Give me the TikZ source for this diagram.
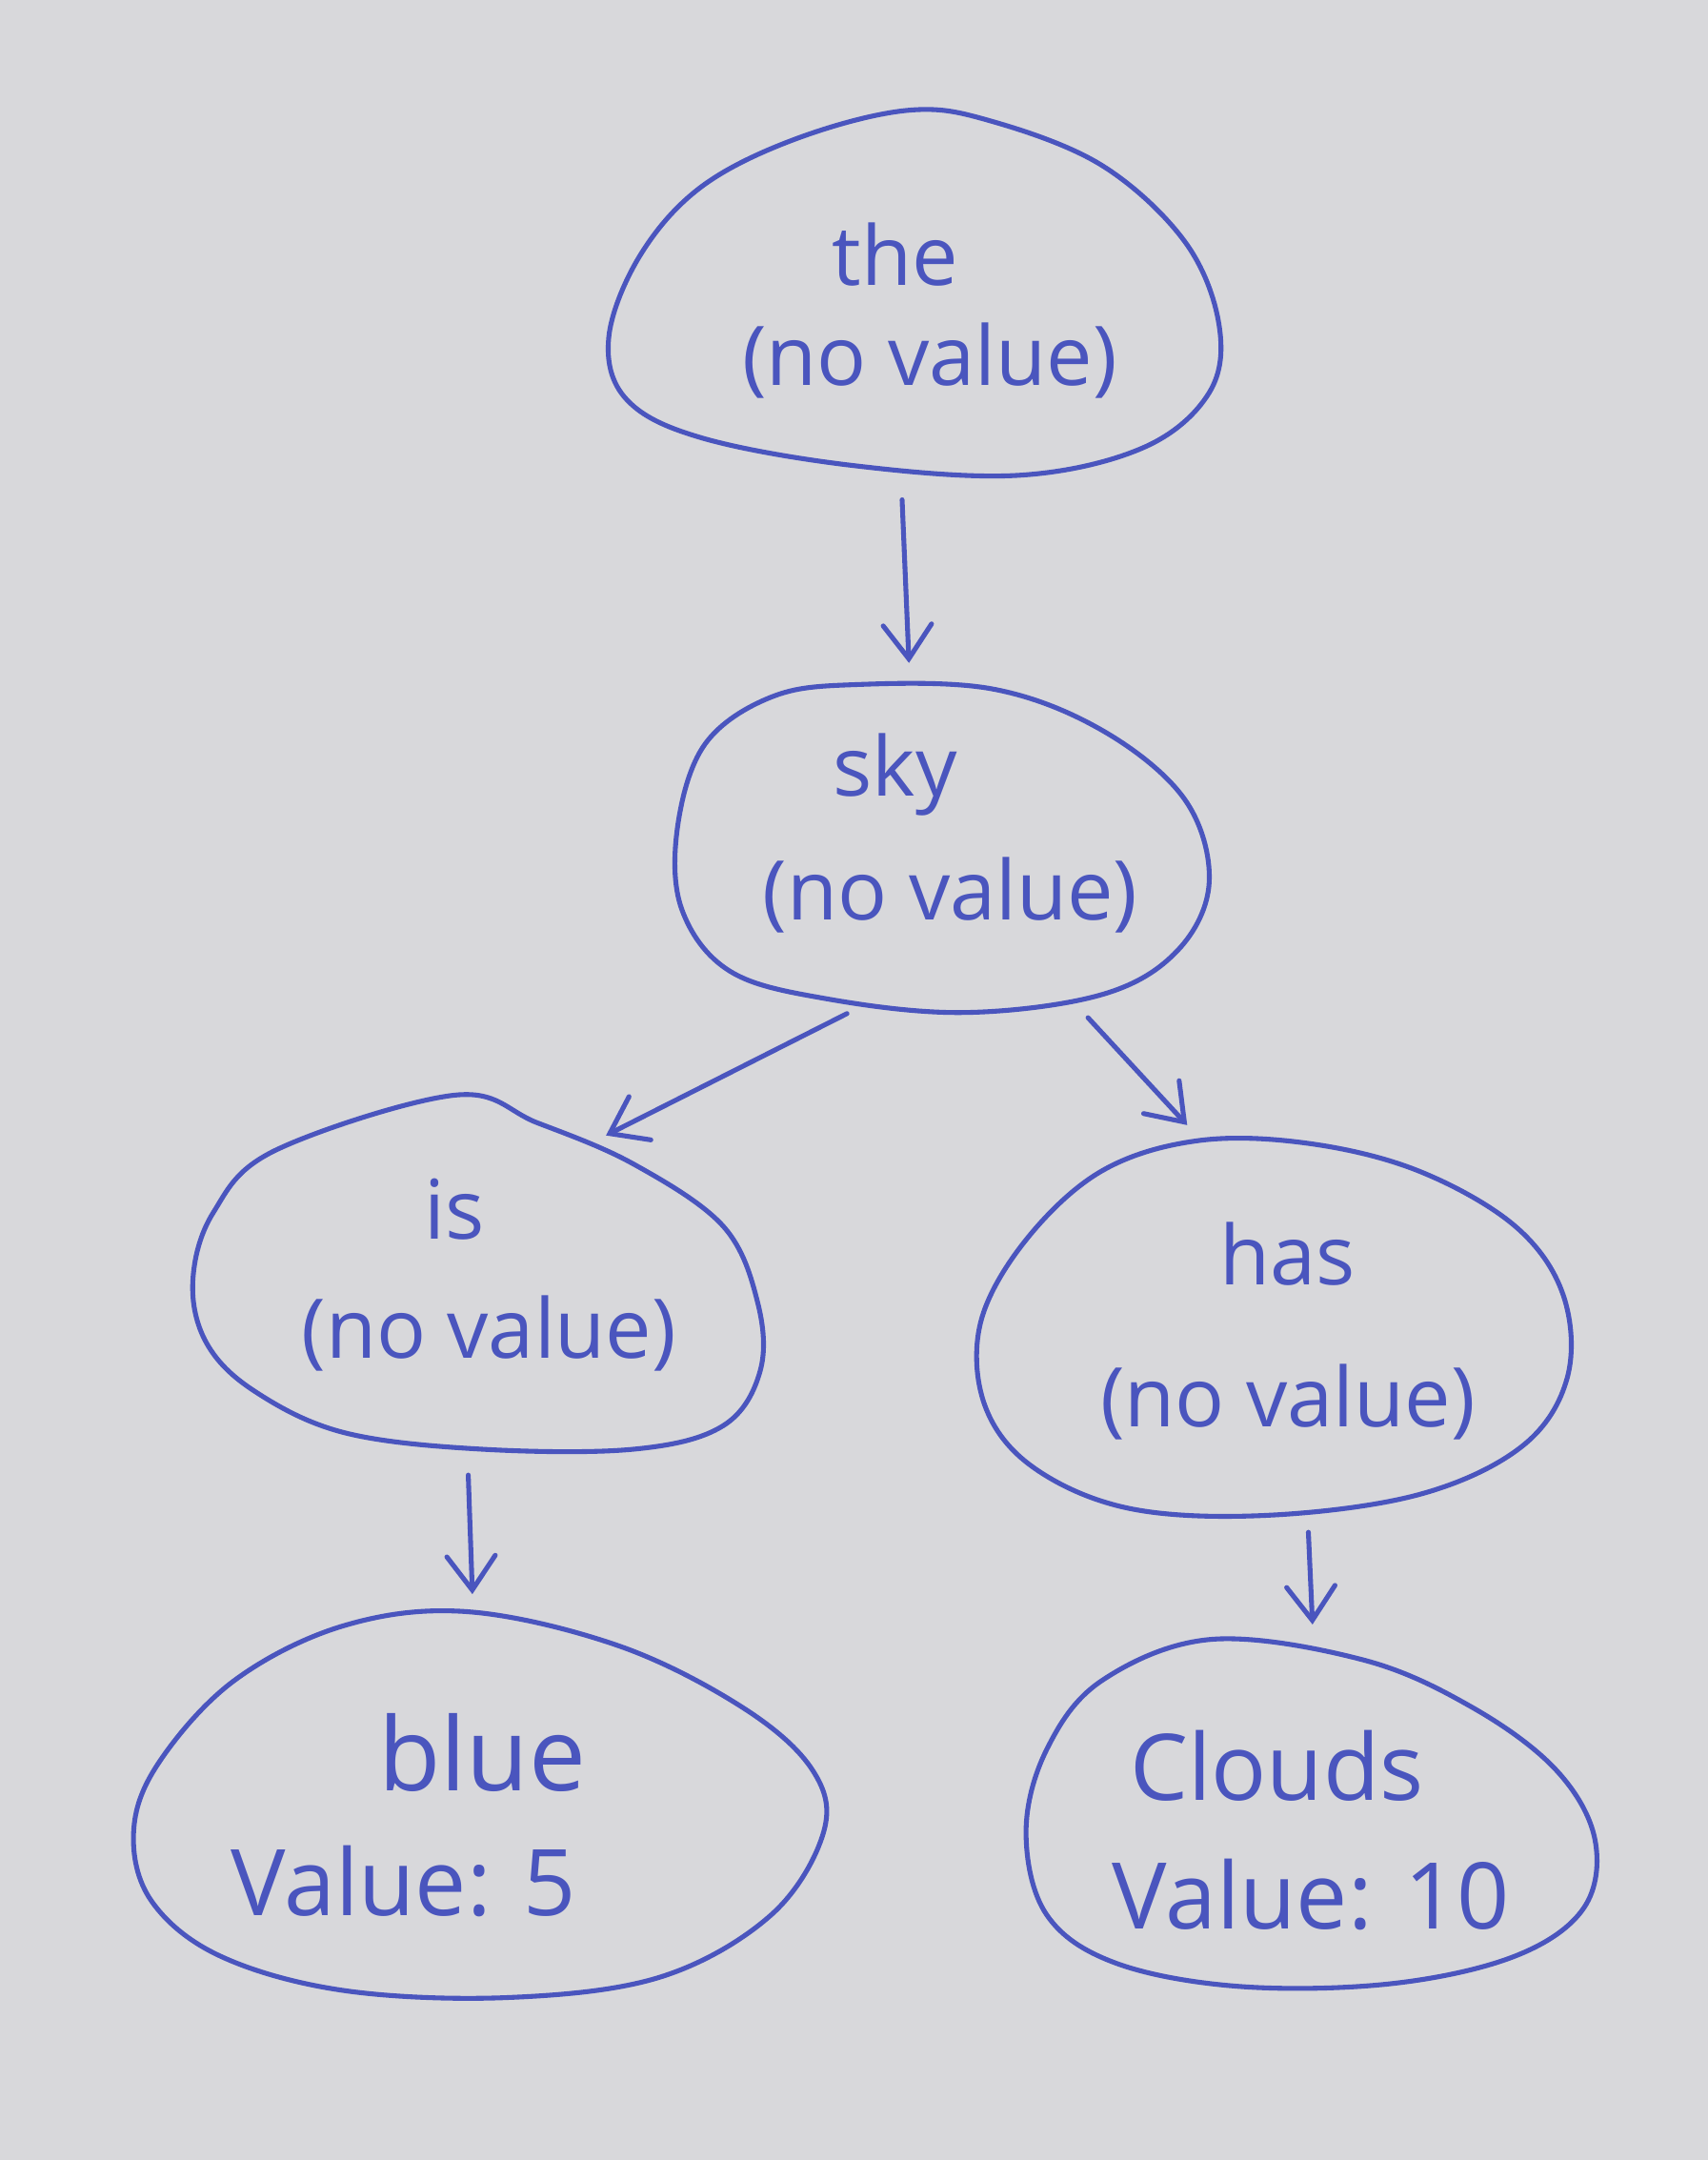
\documentclass[tikz,border=0pt]{standalone}
\usepackage{fontspec}
\setmainfont{Open Sans}
\usetikzlibrary{arrows.meta,calc,shapes.geometric}
\definecolor{ink}{HTML}{4A55BE}
\definecolor{paper}{HTML}{D8D8DB}
\begin{document}
\begin{tikzpicture}[x=0.01cm,y=-0.01cm,
  blob/.style={draw=ink,line width=1pt,line join=round},
  hold/.style={ellipse,draw=none,inner sep=0pt},
  lbl/.style={text=ink,font=\fontsize{17}{20}\selectfont,inner sep=0pt},
  big/.style={text=ink,font=\fontsize{21}{25}\selectfont,inner sep=0pt},
  val/.style={text=ink,font=\fontsize{19}{23}\selectfont,inner sep=0pt},
  arr/.style={draw=ink,line width=1pt,line cap=round,-{Straight Barb[length=7pt,width=10pt,line cap=round]}}]
\fill[paper] (0,0) rectangle (1240,1568);
\useasboundingbox (0,0) rectangle (1240,1568);

% holder nodes
\node[hold,minimum width=4.45cm,minimum height=2.68cm] (the) at (663,212) {};
\node[hold,minimum width=3.88cm,minimum height=2.40cm] (sky) at (684,615) {};
\node[hold,minimum width=4.15cm,minimum height=2.60cm] (is) at (347,925) {};
\node[hold,minimum width=4.30cm,minimum height=2.75cm] (has) at (925,962) {};
\node[hold,minimum width=5.03cm,minimum height=2.80cm] (blue) at (348,1310) {};
\node[hold,minimum width=4.15cm,minimum height=2.50cm] (clouds) at (952,1315) {};

% blobs
\draw[blob] plot[smooth cycle,tension=0.6] coordinates {(660,80) (580,100) (510,135) (465,185) (442,245) (455,290) (510,318) (620,338) (740,345) (830,325) (878,285) (885,235) (860,175) (800,120) (720,88)};
\draw[blob] plot[smooth cycle,tension=0.6] coordinates {(620,497) (560,506) (512,540) (492,600) (495,660) (530,705) (600,725) (700,735) (800,722) (855,690) (878,640) (860,580) (800,530) (720,500)};
\draw[blob] plot[smooth cycle,tension=0.6] coordinates {(330,795) (200,835) (155,880) (140,930) (150,975) (185,1010) (250,1040) (350,1052) (460,1052) (525,1035) (552,995) (550,945) (525,890) (460,845) (390,815)};
\draw[blob] plot[smooth cycle,tension=0.6] coordinates {(870,828) (800,850) (745,900) (712,960) (715,1020) (750,1065) (820,1095) (920,1100) (1030,1085) (1105,1050) (1138,1000) (1135,940) (1100,890) (1030,850) (950,830)};
\draw[blob] plot[smooth cycle,tension=0.6] coordinates {(340,1170) (250,1180) (170,1220) (115,1280) (97,1330) (110,1380) (160,1420) (250,1445) (370,1450) (480,1435) (560,1390) (598,1330) (590,1285) (540,1240) (450,1195)};
\draw[blob] plot[smooth cycle,tension=0.6] coordinates {(880,1190) (800,1220) (760,1270) (745,1330) (760,1390) (810,1425) (900,1442) (1010,1440) (1100,1420) (1150,1385) (1158,1335) (1130,1285) (1070,1240) (990,1205)};

% labels
\node[lbl] (the1) at (650,185) {the};
\node[lbl] (the2) at (675,262) {(no value)};
\node[lbl] (sky1) at (650,562) {sky};
\node[lbl] (sky2) at (690,650) {(no value)};
\node[lbl] (is1) at (330,878) {is};
\node[lbl] (is2) at (355,968) {(no value)};
\node[lbl] (has1) at (935,910) {has};
\node[lbl] (has2) at (935,1018) {(no value)};
\node[big] (blue1) at (350,1272) {blue};
\node[val] (blue2) at (293,1366) {Value: 5};
\node[val] (clouds1) at (927,1282) {Clouds};
\node[val] (clouds2) at (952,1375) {Value: 10};

% connectors
\draw[arr] ($(the.south)+(-8,16)$) -- ($(sky.north)+(-24,-13)$);
\draw[arr] ($(sky.south)+(-69,0)$) -- ($(is.north)+(93,30)$);
\draw[arr] ($(sky.south)+(106,3)$) -- ($(has.north)+(-63,-7)$);
\draw[arr] ($(is.south)+(-7,15)$) -- ($(blue.north)+(-5,-12)$);
\draw[arr] ($(has.south)+(25,12)$) -- ($(clouds.north)+(1,-10)$);
\end{tikzpicture}
\end{document}
